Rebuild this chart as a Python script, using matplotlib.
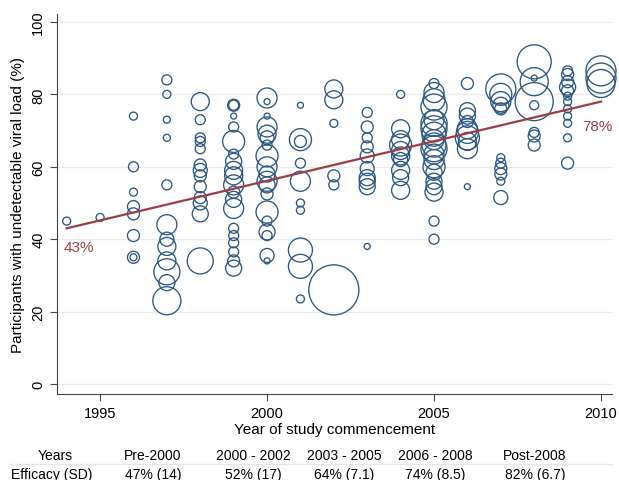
import matplotlib
matplotlib.use("Agg")
import matplotlib.pyplot as plt

plt.rcParams['font.family'] = ['Liberation Sans', 'DejaVu Sans']

# studies: year of commencement, % with undetectable viral load, study size
study_year = (
    [1994] + [1995]
    + [1996] * 8
    + [1997] * 12
    + [1998] * 13
    + [1999] * 19
    + [2000] * 19
    + [2001] * 10
    + [2002] * 6
    + [2003] * 10
    + [2004] * 10
    + [2005] * 20
    + [2006] * 10
    + [2007] * 11
    + [2008] * 8
    + [2009] * 12
    + [2010] * 3
)
study_pct = [
    45,
    46,
    74, 60, 53, 49, 47, 41, 35, 35,
    84, 80, 73, 68, 55, 44, 40, 38, 34, 31, 28, 23,
    78, 73, 68, 67, 65, 60.5, 59, 57.5, 54.5, 51.5, 50, 47, 34,
    77, 77, 74, 71, 67, 63.5, 61.5, 59, 57.5, 55, 53, 51, 48.5, 43, 41, 39, 36.5, 34, 32,
    79, 78, 74, 71, 69, 68, 66, 63, 60, 58, 56, 55, 52.5, 47.5, 45, 42, 41, 35.5, 34,
    77, 67.5, 67, 61, 56, 50, 48, 37, 32.5, 23.5,
    81.5, 78.5, 72, 57.5, 55, 26,
    75, 71, 68, 65.5, 63, 59.5, 57, 56, 54.5, 38,
    80, 70.5, 67.5, 66, 64.5, 63, 62, 59, 57, 53.5,
    83, 80.5, 78.5, 76.5, 73, 72, 70.5, 69, 67.5, 66, 65, 63.5, 62, 60, 58.5, 56, 54.5, 53, 45, 40,
    83, 75.5, 74, 72.5, 70.5, 69.5, 68, 67, 65, 54.5,
    81.5, 80, 78, 77, 76, 62.5, 61, 59.5, 58, 56, 51.5,
    89, 83.5, 84.5, 78, 77, 69.5, 68.5, 66,
    86.5, 85.5, 83.5, 82, 81, 79.5, 78, 76, 74, 72, 68, 61,
    86.5, 84.5, 83,
]
study_n = [
    64,
    64,
    64, 100, 64, 144, 144, 144, 144, 49,
    100, 64, 49, 49, 100, 400, 196, 324, 324, 676, 256, 784,
    324, 100, 100, 100, 100, 144, 196, 144, 144, 144, 196, 256, 676,
    144, 100, 36, 100, 484, 100, 256, 324, 324, 400, 144, 256, 400, 100, 100, 100, 100, 144, 256,
    400, 36, 36, 400, 324, 196, 100, 484, 400, 256, 400, 256, 144, 484, 100, 256, 100, 196, 36,
    36, 484, 144, 100, 400, 64, 64, 576, 576, 64,
    324, 324, 64, 144, 100, 2500,
    100, 144, 100, 144, 196, 196, 256, 256, 256, 36,
    64, 324, 324, 484, 324, 324, 196, 324, 256, 324,
    100, 400, 484, 676, 400, 676, 676, 576, 400, 576, 676, 400, 400, 484, 256, 256, 256, 324, 100, 100,
    144, 256, 256, 144, 400, 484, 576, 324, 400, 36,
    900, 484, 400, 256, 144, 64, 100, 144, 144, 64, 196,
    1156, 784, 36, 1444, 81, 100, 144, 144,
    100, 144, 144, 256, 144, 64, 64, 64, 64, 64, 64, 144,
    900, 900, 784,
]

trend_year = [1994, 2010]
trend_pct = [43, 78]

table_rows = ["Years", "Efficacy (SD)"]
period_labels = ["Pre-2000", "2000 - 2002", "2003 - 2005", "2006 - 2008", "Post-2008"]
period_efficacy = ["47% (14)", "52% (17)", "64% (7.1)", "74% (8.5)", "82% (6.7)"]

navy = "#2a5680"
maroon = "#9a3d45"

fig = plt.figure(figsize=(6.19, 4.81), dpi=100)
ax = fig.add_axes([57 / 619, 86 / 481, 555 / 619, 380 / 481])

ax.scatter(study_year, study_pct, s=[n * 0.52 for n in study_n],
           facecolors="none", edgecolors=navy, linewidths=0.95,
           clip_on=False, zorder=3)
ax.plot(trend_year, trend_pct, color=maroon, lw=1.6, zorder=4)
ax.text(1994.37, 37.8, f"{trend_pct[0]}%", color=maroon, fontsize=11,
        ha="center", va="center")
ax.text(2009.88, 71.3, f"{trend_pct[1]}%", color=maroon, fontsize=11,
        ha="center", va="center")

ax.set_xlim(1993.71, 2010.33)
ax.set_ylim(-2.76, 102.2)
ax.set_xticks([1995, 2000, 2005, 2010])
ax.set_yticks([0, 20, 40, 60, 80, 100])
ax.grid(axis="y", color="#ebebeb", lw=1)
ax.set_axisbelow(True)
for side in ["top", "right"]:
    ax.spines[side].set_visible(False)
for side in ["left", "bottom"]:
    ax.spines[side].set_color("#444444")
ax.tick_params(axis="both", colors="#444444", labelcolor="black",
               labelsize=10.5, length=5)
ax.tick_params(axis="y", labelrotation=90)
for lab in ax.get_yticklabels():
    lab.set_va("center")

ax.set_xlabel("Year of study commencement", fontsize=11)
ax.xaxis.set_label_coords(0.5, -0.075)
ax.set_ylabel("Participants with undetectable viral load (%)", fontsize=11)
ax.yaxis.set_label_coords(-0.058, 0.5)

# summary table under the plot
col_x = [55, 153, 253, 344, 435, 535]
fig.text(col_x[0] / 619, 1 - 456 / 481, table_rows[0], fontsize=10,
         ha="center", va="center")
fig.text(col_x[0] / 619 - 0.005, 1 - 475 / 481, table_rows[1], fontsize=10,
         ha="center", va="center")
for x, lab, eff in zip(col_x[1:], period_labels, period_efficacy):
    fig.text(x / 619, 1 - 456 / 481, lab, fontsize=10, ha="center", va="center")
    fig.text(x / 619, 1 - 475 / 481, eff, fontsize=10, ha="center", va="center")
fig.add_artist(plt.Line2D([10 / 619, 612 / 619], [1 - 465 / 481] * 2,
                          color="#e6e6e6", lw=1))

fig.savefig("out.png", dpi=100)
